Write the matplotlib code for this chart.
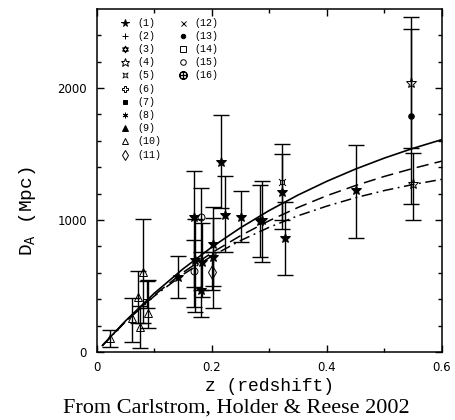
import matplotlib
matplotlib.use("Agg")
import matplotlib.pyplot as plt
from matplotlib.path import Path

plt.rcParams['mathtext.fontset'] = 'custom'
plt.rcParams['mathtext.rm'] = 'Liberation Mono'

# SZ distance measurements: redshift, D_A, error bar ends, sample number
z_obs  = [0.023, 0.061, 0.075, 0.072, 0.081, 0.089, 0.088,
          0.141, 0.169, 0.181, 0.169, 0.171, 0.183, 0.181, 0.202, 0.202, 0.201,
          0.216, 0.223, 0.251, 0.284, 0.288, 0.322, 0.322, 0.327, 0.451,
          0.546, 0.546, 0.550]
da_obs = [106, 255, 192, 419, 608, 293, 400,
          571, 1025, 1020, 614, 697, 684, 470, 816, 722, 608,
          1442, 1038, 1025, 992, 1000, 1214, 1290, 864, 1230,
          2038, 1788, 1273]
da_lo  = [40, 78, 33, 220, 220, 184, 333,
          407, 495, 470, 343, 300, 419, 267, 500, 331, 470,
          1090, 760, 836, 720, 684, 932, 1000, 583, 864,
          1545, 1121, 1000]
da_hi  = [167, 409, 350, 610, 1008, 545, 540,
          730, 1371, 1240, 848, 1010, 980, 760, 1100, 1013, 760,
          1795, 1333, 1222, 1265, 1298, 1500, 1576, 1139, 1568,
          2538, 2447, 1508]
sample = [10, 10, 10, 10, 10, 10, 2,
          1, 1, 15, 15, 1, 1, 1, 1, 1, 11,
          1, 1, 1, 1, 1, 1, 5, 1, 1,
          4, 13, 4]

# model curves
z_model = [0.01, 0.05, 0.10, 0.15, 0.20, 0.25, 0.30, 0.35, 0.40, 0.45, 0.50, 0.55, 0.60]
da_solid   = [49, 235, 444, 629, 794, 941, 1072, 1189, 1293, 1386, 1469, 1543, 1609]
da_dashed  = [49, 231, 430, 602, 751, 881, 995, 1095, 1184, 1261, 1330, 1391, 1446]
da_dashdot = [49, 229, 423, 587, 726, 844, 945, 1032, 1105, 1169, 1223, 1269, 1308]

sample_labels = ['(%d)' % i for i in range(1, 17)]

# marker styles for each sample
hexa = Path([(0, 1), (0.866, -0.5), (-0.866, -0.5), (0, 1),
             (0, -1), (0.866, 0.5), (-0.866, 0.5), (0, -1)],
            [1, 2, 2, 79, 1, 2, 2, 79])
sqtick = Path([(-0.5, -0.5), (0.5, -0.5), (0.5, 0.5), (-0.5, 0.5), (-0.5, -0.5),
               (-0.5, 0.5), (-0.9, 0.9), (0.5, 0.5), (0.9, 0.9),
               (-0.5, -0.5), (-0.9, -0.9), (0.5, -0.5), (0.9, -0.9)],
              [1, 2, 2, 2, 79, 1, 2, 1, 2, 1, 2, 1, 2])
styles = {
    1: dict(marker='*', mfc='k', ms=7),
    2: dict(marker='+', mfc='none', ms=6),
    3: dict(marker=hexa, mfc='none', ms=6),
    4: dict(marker='*', mfc='none', ms=8),
    5: dict(marker=sqtick, mfc='none', ms=5),
    6: dict(marker='P', mfc='none', ms=5),
    7: dict(marker='s', mfc='k', ms=3.5),
    8: dict(marker=(6, 2, 0), mfc='none', ms=5),
    9: dict(marker='^', mfc='k', ms=5),
    10: dict(marker='^', mfc='none', ms=6),
    11: dict(marker='d', mfc='none', ms=7),
    12: dict(marker='x', mfc='none', ms=4.5),
    13: dict(marker='o', mfc='k', ms=4),
    14: dict(marker='s', mfc='none', ms=5),
    15: dict(marker='o', mfc='none', ms=5),
    16: dict(marker='$\\oplus$', mfc='none', ms=7),
}

fig = plt.figure(figsize=(4.56, 4.2), dpi=100)
ax = fig.add_axes([0.212, 0.162, 0.757, 0.817])

ax.plot(z_model, da_solid, '-', color='k', lw=1.2)
ax.plot(z_model, da_dashed, color='k', lw=1.1, dashes=(8, 4))
ax.plot(z_model, da_dashdot, color='k', lw=1.1, dashes=(7, 3, 1.2, 3))

yerr = [[d - l for d, l in zip(da_obs, da_lo)], [h - d for d, h in zip(da_obs, da_hi)]]
ax.errorbar(z_obs, da_obs, yerr=yerr, fmt='none', ecolor='k', elinewidth=1.0,
            capsize=6, capthick=1.0)

for s in sorted(set(sample)):
    zs = [z for z, k in zip(z_obs, sample) if k == s]
    ds = [d for d, k in zip(da_obs, sample) if k == s]
    st = styles[s]
    ax.plot(zs, ds, ls='none', marker=st['marker'], mfc=st['mfc'], mec='k',
            mew=0.7, ms=st['ms'])

# hand made legend, two columns
for i, lab in enumerate(sample_labels):
    col, row = (0, i) if i < 11 else (1, i - 11)
    xm = 0.082 + col * 0.167
    y = 0.96 - row * 0.0385
    st = styles[i + 1]
    ax.plot([xm], [y], transform=ax.transAxes, ls='none', marker=st['marker'],
            mfc=st['mfc'], mec='k', mew=0.7, ms=st['ms'] * 0.8, clip_on=False)
    ax.text(xm + 0.035, y, lab, transform=ax.transAxes, ha='left', va='center',
            fontsize=7.2, family='Liberation Mono')

ax.set_xlim(0, 0.6)
ax.set_ylim(0, 2600)
ax.set_xticks([0, 0.2, 0.4, 0.6])
ax.set_xticklabels(['0', '0.2', '0.4', '0.6'])
ax.set_xticks([0.1, 0.3, 0.5], minor=True)
ax.set_yticks([0, 1000, 2000])
ax.set_yticks(range(200, 2600, 200), minor=True)
ax.tick_params(which='both', direction='in', top=True, right=True, width=1.0,
               labelsize=8.5)
ax.tick_params(which='major', length=5)
ax.tick_params(which='minor', length=3)
ax.tick_params(axis='x', pad=6.5)
ax.tick_params(axis='y', pad=7)
for sp in ax.spines.values():
    sp.set_linewidth(1.1)

ax.set_xlabel('z (redshift)', fontsize=13, family='Liberation Mono')
ax.xaxis.set_label_coords(0.5, -0.075)
ax.set_ylabel('D$_{\\mathrm{A}}$ (Mpc)', fontsize=14, family='Liberation Mono')
ax.yaxis.set_label_coords(-0.17, 0.41)

fig.text(0.518, 0.028, 'From Carlstrom, Holder & Reese 2002', ha='center', va='center',
         fontsize=16, family='Liberation Serif')

fig.savefig('out.png', dpi=100)
